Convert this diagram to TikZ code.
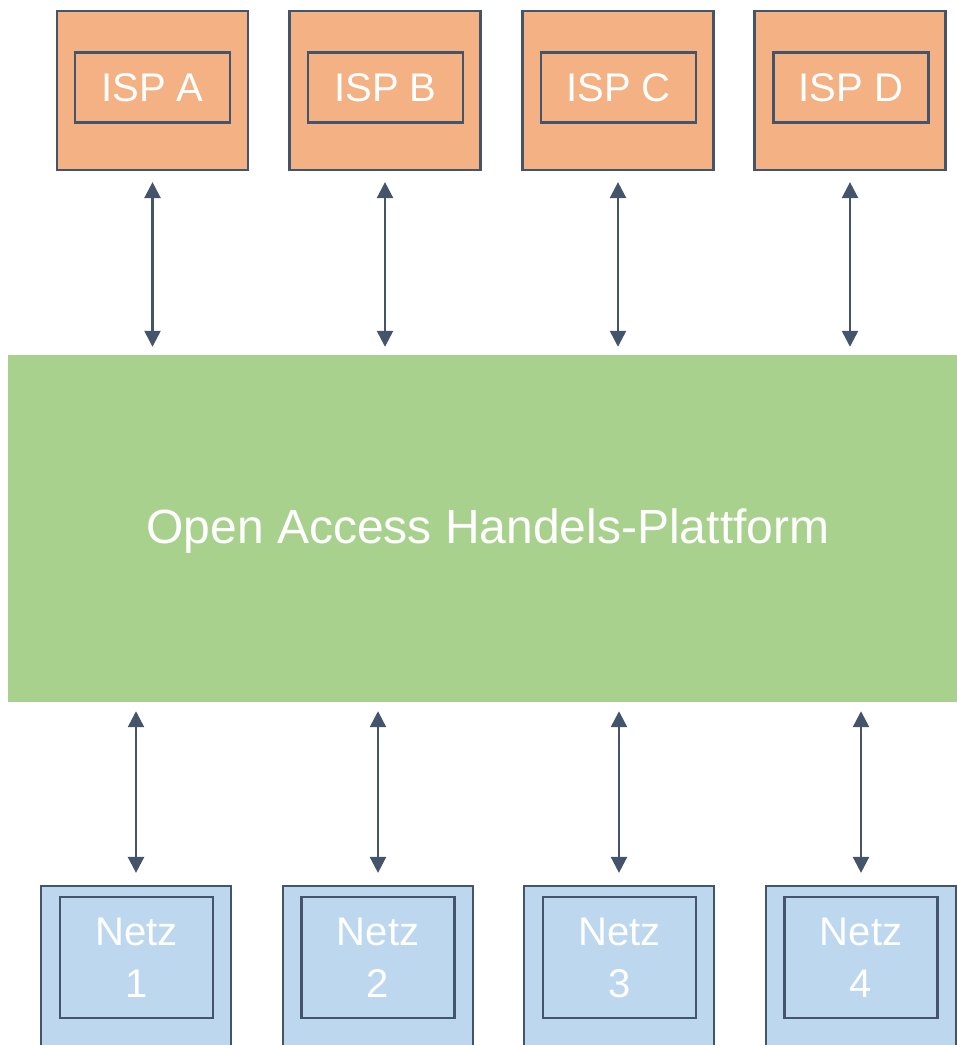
\documentclass[tikz,border=0pt]{standalone}
\usepackage{fontspec}
\setmainfont{Liberation Sans}
\usetikzlibrary{arrows.meta}
\definecolor{edge}{HTML}{44546A}
\definecolor{ispfill}{HTML}{F4B183}
\definecolor{platfill}{HTML}{A9D18E}
\definecolor{netzfill}{HTML}{BDD7EE}
\tikzset{
  outerisp/.style={draw=edge, line width=2.2pt, fill=ispfill, minimum width=191pt, minimum height=159pt, inner sep=0pt},
  innerisp/.style={draw=edge, line width=2.2pt, minimum width=155pt, minimum height=70pt, inner sep=0pt, text=white, font=\fontsize{40}{48}\selectfont},
  outernetz/.style={draw=edge, line width=2.2pt, fill=netzfill, minimum width=190pt, minimum height=180pt, inner sep=0pt},
  innernetz/.style={draw=edge, line width=2.2pt, minimum width=153pt, minimum height=121pt, inner sep=0pt, text=white, align=center, font=\fontsize{40}{52}\selectfont},
  platbox/.style={fill=platfill, minimum width=949pt, minimum height=347pt, inner sep=0pt},
  plattext/.style={text=white, inner sep=0pt, font=\fontsize{48}{56}\selectfont},
  arr/.style={draw=edge, line width=2.5pt, {Triangle[width=16pt,length=16pt]}-{Triangle[width=16pt,length=16pt]}}
}
\begin{document}
\begin{tikzpicture}[x=1pt,y=-1pt]
\useasboundingbox (0,0) rectangle (957,1045);
\clip (0,0) rectangle (957,1045);
% ISP boxes
\node[outerisp] (ispA) at (152.5,90.5) {};
\node[outerisp] (ispB) at (385,90.5) {};
\node[outerisp] (ispC) at (618,90.5) {};
\node[outerisp] (ispD) at (850,90.5) {};
\node[innerisp] (ispAi) at (152.5,87.5) {ISP A};
\node[innerisp] (ispBi) at (385.5,87.5) {ISP B};
\node[innerisp] (ispCi) at (618.5,87.5) {ISP C};
\node[innerisp] (ispDi) at (851,87.5) {ISP D};
% platform
\node[platbox] (plat) at (482.5,528.5) {};
\node[plattext] (platlabel) at (488,531) {Open Access Handels-Plattform};
% Netz boxes
\node[outernetz] (netz1) at (136,976) {};
\node[outernetz] (netz2) at (378,976) {};
\node[outernetz] (netz3) at (619,976) {};
\node[outernetz] (netz4) at (861,976) {};
\node[innernetz] (netz1i) at (136.5,957.5) {Netz\\1};
\node[innernetz] (netz2i) at (378,957.5) {Netz\\2};
\node[innernetz] (netz3i) at (619.5,957.5) {Netz\\3};
\node[innernetz] (netz4i) at (861,957.5) {Netz\\4};
% arrows top
\foreach \n in {ispA,ispB,ispC,ispD}{
  \draw[arr, shorten <=11pt, shorten >=8pt] (\n.south) -- (\n.south |- plat.north);
}
% arrows bottom
\foreach \n in {netz1,netz2,netz3,netz4}{
  \draw[arr, shorten <=9pt, shorten >=12pt] (\n.north |- plat.south) -- (\n.north);
}
\end{tikzpicture}
\end{document}
